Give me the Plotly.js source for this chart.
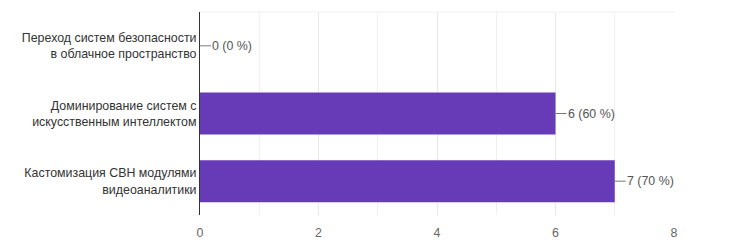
<!DOCTYPE html>
<html>
<head>
<meta charset="utf-8">
<script src="https://cdn.plot.ly/plotly-3.0.1.min.js"></script>
<style>html,body{margin:0;padding:0;background:#fff}#chart{width:752px;height:251px}</style>
</head>
<body>
<div id="chart"></div>
<script>
var categories = [
  "Переход систем безопасности<br>в облачное пространство",
  "Доминирование систем с<br>искусственным интеллектом",
  "Кастомизация СВН модулями<br>видеоаналитики"
];
var counts = [0, 6, 7];
var percents = [0, 60, 70];
var tickValues = [0, 2, 4, 6, 8];
var tickLabels = ["0", "2", "4", "6", "8"];

var FONT = "Arial, 'Liberation Sans', sans-serif";

var trace = {
  type: "bar",
  orientation: "h",
  x: counts,
  y: categories,
  marker: {color: "#673ab7"},
  width: 0.62,
  hoverinfo: "none"
};

var annotations = counts.map(function (v, i) {
  return {
    x: v, y: categories[i], xref: "x", yref: "y",
    text: v + " (" + percents[i] + " %)",
    showarrow: true, arrowhead: 0, arrowwidth: 1, arrowcolor: "#777",
    ax: 11, ay: 0, xanchor: "left", standoff: 0, borderpad: 0,
    font: {family: FONT, size: 12.4, color: "#555"}
  };
});

var layout = {
  width: 752, height: 251,
  margin: {l: 200, r: 78, t: 12, b: 36},
  paper_bgcolor: "#fff", plot_bgcolor: "#fff",
  showlegend: false,
  font: {family: FONT, size: 12.4, color: "#444"},
  xaxis: {
    range: [0, 8], tickvals: tickValues, ticktext: tickLabels,
    showgrid: true, gridcolor: "#e8e8e8", gridwidth: 1,
    minor: {dtick: 1, showgrid: true, gridcolor: "#f0f0f0", gridwidth: 1},
    zeroline: false, showline: false,
    ticks: "outside", ticklen: 6, tickcolor: "rgba(0,0,0,0)",
    tickfont: {family: FONT, size: 12.4, color: "#666"}, fixedrange: true
  },
  yaxis: {
    autorange: "reversed",
    showgrid: false, zeroline: false,
    showline: true, linecolor: "#333", linewidth: 1,
    ticks: "", ticklen: 0,
    tickfont: {family: FONT, size: 12.4, color: "#333"}, fixedrange: true
  },
  shapes: [{
    type: "line", xref: "paper", yref: "paper", x0: 0, x1: 1, y0: 1, y1: 1,
    line: {color: "#f0f0f0", width: 1}
  }],
  annotations: annotations
};

Plotly.newPlot("chart", [trace], layout, {displayModeBar: false, staticPlot: true});
</script>
</body>
</html>
